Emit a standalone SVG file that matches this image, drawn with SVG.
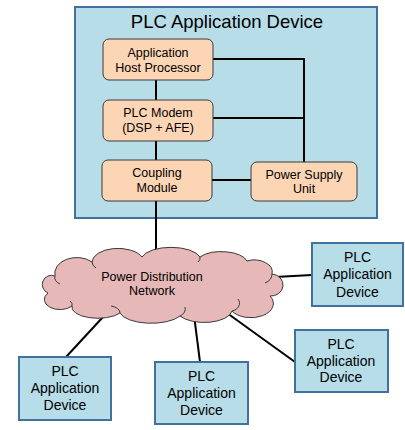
<svg xmlns="http://www.w3.org/2000/svg" width="405" height="430" viewBox="0 0 405 430">
<style>
text{font-family:"Liberation Sans",Arial,sans-serif;fill:#000;text-anchor:middle}
.dev{fill:#b7dde8;stroke:#41719c;stroke-width:2}
.mod{fill:#fcd5b5;stroke:#3a3a3a;stroke-width:1}
.t12{font-size:12.5px}
.t14{font-size:14px}
.ln{stroke:#000;stroke-width:2;fill:none}
</style>
<rect width="405" height="430" fill="#fff"/>
<g id="main-device">
<rect class="dev" x="75" y="7" width="302" height="211"/>
<text x="227" y="28" style="font-size:18.5px">PLC Application Device</text>
</g>
<g id="connectors">
<line class="ln" x1="156" y1="80" x2="156" y2="100"/>
<line class="ln" x1="156" y1="141" x2="156" y2="160"/>
<line class="ln" x1="156" y1="201" x2="156" y2="258"/>
<polyline class="ln" points="213,59 304,59 304,162"/>
<line class="ln" x1="213" y1="118" x2="304" y2="118"/>
<line class="ln" x1="212" y1="180" x2="251" y2="180"/>
<line class="ln" x1="275" y1="277" x2="312" y2="275"/>
<line class="ln" x1="103" y1="317" x2="66" y2="357"/>
<line class="ln" x1="194" y1="315" x2="200" y2="362"/>
<line class="ln" x1="227" y1="313" x2="295" y2="362"/>
</g>
<g id="host">
<rect class="mod" x="103" y="39" width="110" height="41" rx="6"/>
<text class="t12" x="158" y="57">Application</text>
<text class="t12" x="158" y="72">Host Processor</text>
</g>
<g id="modem">
<rect class="mod" x="103" y="100" width="110" height="41" rx="6"/>
<text class="t12" x="158" y="117">PLC Modem</text>
<text class="t12" x="158" y="132">(DSP + AFE)</text>
</g>
<g id="coupling">
<rect class="mod" x="102" y="160" width="110" height="41" rx="6"/>
<text class="t12" x="157" y="177">Coupling</text>
<text class="t12" x="157" y="192">Module</text>
</g>
<g id="psu">
<rect class="mod" x="251" y="162" width="106" height="39" rx="6"/>
<text class="t12" x="304" y="179">Power Supply</text>
<text class="t12" x="304" y="193">Unit</text>
</g>
<g id="cloud">
<path d="M48,293 A9,9 0 0 1 55,276 A22,16 0 0 1 92,262 A26,14 0 0 1 142,257 A30,13 0 0 1 200,257 A26,12 0 0 1 247,261 A18,12 0 0 1 272,274 A12,11 0 0 1 270,296 A22,14 0 0 1 232,311 A28,13 0 0 1 180,316 A32,13 0 0 1 120,313 A26,11 0 0 1 72,306 A14,9 0 0 1 48,293 Z" fill="#e6b8b7" stroke="#3a3a3a" stroke-width="1"/>
<path d="M272,274 A12,10 0 0 1 265,283 M232,311 A10,8 0 0 0 238,299 M180,316 A10,8 0 0 0 185,307 M120,313 A12,7 0 0 0 111,306 M72,306 A10,6 0 0 0 70,301 M55,276 A12,8 0 0 0 60,284 M92,262 A10,8 0 0 0 96,268 M200,257 A8,6 0 0 1 198,262" fill="none" stroke="#3a3a3a" stroke-width="1"/>
<text class="t12" x="152" y="281">Power Distribution</text>
<text class="t12" x="152" y="295">Network</text>
</g>
<g id="dev1">
<rect class="dev" x="312" y="243" width="91" height="63"/>
<text class="t14" x="357.5" y="262">PLC</text>
<text class="t14" x="357.5" y="279">Application</text>
<text class="t14" x="357.5" y="297">Device</text>
</g>
<g id="dev2">
<rect class="dev" x="295" y="330" width="93" height="62"/>
<text class="t14" x="341" y="349">PLC</text>
<text class="t14" x="341" y="366">Application</text>
<text class="t14" x="341" y="382">Device</text>
</g>
<g id="dev3">
<rect class="dev" x="155" y="362" width="93" height="62"/>
<text class="t14" x="201.5" y="381">PLC</text>
<text class="t14" x="201.5" y="398">Application</text>
<text class="t14" x="201.5" y="415">Device</text>
</g>
<g id="dev4">
<rect class="dev" x="19" y="357" width="92" height="63"/>
<text class="t14" x="65" y="376">PLC</text>
<text class="t14" x="65" y="393">Application</text>
<text class="t14" x="65" y="410">Device</text>
</g>
</svg>
